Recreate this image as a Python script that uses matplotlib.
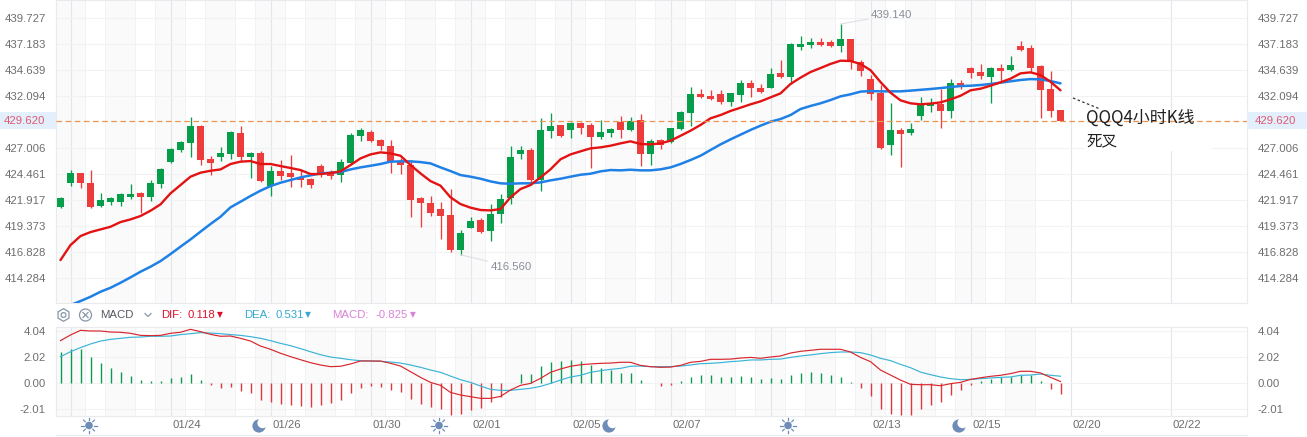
import numpy as np
import matplotlib
matplotlib.use("Agg")
import matplotlib.pyplot as plt
from matplotlib.patches import Circle, Rectangle, RegularPolygon
from matplotlib.lines import Line2D
from matplotlib.transforms import Affine2D

plt.rcParams['font.family'] = ['Liberation Sans', 'DejaVu Sans']

opens = [421.23, 423.61, 424.56, 423.58, 421.33, 421.72, 421.72, 422.21, 422.60, 422.21,
         423.48, 425.63, 426.81, 427.49, 429.16, 425.93, 426.12, 426.42, 428.47, 426.12,
         426.51, 423.28, 424.75, 424.56, 424.07, 423.97, 425.24, 424.56, 424.36, 425.53,
         428.18, 428.57, 427.79, 427.20, 425.73, 425.34, 422.11, 421.62, 421.03, 420.45,
         417.02, 419.18, 419.96, 418.88, 420.55, 422.11, 426.42, 426.81, 423.87, 428.67,
         429.25, 428.77, 429.45, 429.25, 428.08, 428.47, 429.55, 428.77, 429.74, 426.42,
         427.79, 427.59, 428.86, 430.43, 432.29, 432.09, 432.29, 431.51, 432.19, 433.37,
         432.88, 432.88, 434.34, 433.95, 436.92, 437.08, 437.38, 437.38, 436.99, 437.67,
         435.42, 433.76, 432.39, 427.30, 428.77, 428.47, 430.13, 431.11, 431.31, 430.62,
         433.36, 434.83, 434.44, 433.95, 434.83, 434.64, 436.98, 436.79, 435.03, 432.78,
         430.72]
highs = [422.21, 424.85, 424.56, 424.85, 422.57, 422.21, 422.57, 423.48, 422.66, 423.87,
         425.05, 426.97, 427.69, 430.00, 429.22, 426.22, 427.10, 428.67, 429.16, 426.61,
         426.71, 425.24, 425.83, 426.32, 424.85, 424.03, 425.44, 424.85, 425.93, 428.47,
         428.96, 428.76, 427.85, 427.79, 425.99, 425.83, 422.18, 422.31, 421.72, 422.99,
         418.98, 420.25, 420.15, 421.52, 422.50, 427.20, 427.20, 427.00, 429.94, 430.43,
         429.25, 429.55, 429.55, 429.45, 429.74, 428.96, 430.14, 430.04, 430.33, 427.88,
         427.88, 428.96, 430.62, 432.97, 432.78, 432.68, 432.68, 432.39, 433.66, 433.66,
         433.27, 434.83, 435.62, 437.28, 437.97, 437.77, 437.77, 437.57, 439.14, 437.67,
         435.62, 434.15, 433.17, 431.41, 428.96, 429.45, 431.99, 431.90, 432.78, 433.75,
         433.66, 434.93, 435.22, 434.93, 435.22, 436.01, 437.47, 437.08, 435.12, 434.54,
         430.72]
lows = [421.13, 423.32, 423.12, 421.17, 421.26, 421.42, 421.33, 422.04, 420.61, 421.82,
        423.09, 425.53, 426.61, 426.12, 425.34, 424.36, 425.73, 425.93, 425.73, 424.07,
        423.68, 422.31, 423.87, 423.19, 423.19, 423.09, 424.16, 423.97, 423.68, 425.44,
        427.69, 427.59, 426.81, 424.56, 424.46, 420.25, 419.27, 420.35, 418.10, 416.86,
        416.56, 419.15, 418.69, 417.90, 419.66, 421.52, 425.93, 423.38, 422.80, 427.98,
        428.08, 427.98, 428.37, 425.05, 427.88, 428.08, 427.98, 428.67, 425.24, 425.34,
        426.91, 427.49, 428.77, 429.16, 431.90, 431.70, 431.31, 431.12, 431.51, 432.00,
        432.39, 432.88, 433.86, 433.27, 436.60, 436.79, 436.99, 436.89, 436.40, 434.74,
        434.05, 431.70, 426.91, 426.32, 425.15, 428.28, 429.74, 430.53, 428.96, 429.94,
        432.78, 433.85, 433.75, 431.41, 433.46, 434.54, 436.49, 434.44, 429.94, 430.04,
        429.62]
closes = [422.11, 424.56, 423.61, 421.23, 421.91, 422.11, 422.50, 422.50, 422.21, 423.58,
          424.95, 426.90, 427.59, 429.16, 425.83, 425.53, 426.51, 428.57, 426.12, 426.51,
          423.77, 424.75, 424.26, 424.16, 423.87, 423.38, 424.56, 424.26, 425.63, 428.27,
          428.76, 427.69, 427.20, 425.63, 425.34, 421.92, 421.62, 420.64, 420.35, 417.02,
          418.69, 419.86, 418.78, 420.55, 422.01, 426.12, 426.81, 423.87, 428.77, 429.16,
          428.18, 429.45, 428.96, 428.08, 428.57, 428.86, 428.77, 429.65, 426.42, 427.69,
          427.30, 428.96, 430.53, 432.29, 432.00, 431.80, 431.51, 432.39, 433.37, 432.88,
          432.49, 434.25, 433.95, 437.18, 437.18, 437.38, 437.08, 436.99, 437.67, 435.42,
          434.54, 432.29, 427.01, 428.77, 428.38, 428.86, 431.31, 431.31, 430.62, 433.36,
          433.17, 434.34, 434.05, 434.83, 434.54, 435.12, 436.59, 434.83, 432.68, 430.62,
          429.62]
ma_red = [416.04, 417.51, 418.39, 418.78, 419.04, 419.30, 419.76, 420.02, 420.35, 420.87,
          421.49, 422.57, 423.38, 424.20, 424.59, 424.78, 424.91, 425.44, 425.67, 425.73,
          425.44, 425.44, 425.24, 425.05, 424.85, 424.46, 424.46, 424.56, 424.72, 425.34,
          425.99, 426.38, 426.58, 426.48, 426.25, 425.34, 424.52, 423.77, 423.32, 422.18,
          421.52, 421.17, 420.94, 420.90, 421.03, 422.18, 422.99, 423.38, 424.13, 424.92,
          425.90, 426.38, 426.68, 426.97, 427.07, 427.23, 427.46, 427.66, 427.40, 427.36,
          427.46, 427.72, 428.20, 428.70, 429.26, 429.91, 430.23, 430.63, 430.95, 431.28,
          431.57, 431.96, 432.35, 433.27, 433.89, 434.44, 434.83, 435.23, 435.55, 435.52,
          435.23, 434.62, 433.46, 432.42, 431.67, 431.38, 431.28, 431.35, 431.47, 431.76,
          432.12, 432.65, 432.81, 433.10, 433.43, 433.79, 434.31, 434.41, 434.15, 433.49,
          432.65]
ma_blue = [411.21, 411.64, 412.03, 412.45, 412.94, 413.33, 413.82, 414.35, 414.90, 415.39,
           415.94, 416.63, 417.35, 418.06, 418.82, 419.57, 420.28, 421.20, 421.75, 422.31,
           422.83, 423.28, 423.61, 423.87, 424.13, 424.33, 424.52, 424.59, 424.65, 424.91,
           425.11, 425.27, 425.44, 425.67, 425.70, 425.70, 425.63, 425.50, 425.11, 424.75,
           424.36, 424.20, 424.00, 423.74, 423.55, 423.51, 423.55, 423.55, 423.64, 423.84,
           424.00, 424.20, 424.39, 424.49, 424.72, 424.85, 424.82, 424.88, 424.82, 424.82,
           424.92, 425.11, 425.44, 425.83, 426.25, 426.81, 427.36, 427.85, 428.31, 428.77,
           429.19, 429.58, 429.84, 430.23, 430.82, 431.12, 431.38, 431.70, 432.06, 432.26,
           432.52, 432.58, 432.55, 432.55, 432.55, 432.62, 432.70, 432.78, 432.87, 432.97,
           433.07, 433.10, 433.17, 433.27, 433.40, 433.53, 433.66, 433.75, 433.72, 433.56,
           433.33]
macd_hist = [2.38, 2.64, 2.62, 1.99, 1.53, 1.14, 0.83, 0.52, 0.23, 0.16,
             0.16, 0.39, 0.44, 0.67, 0.23, -0.16, -0.39, -0.31, -0.62, -0.78,
             -1.32, -1.48, -1.63, -1.71, -1.79, -1.86, -1.71, -1.55, -1.32, -0.78,
             -0.39, -0.23, -0.31, -0.54, -0.70, -1.24, -1.63, -1.86, -2.02, -2.49,
             -2.41, -2.10, -1.94, -1.50, -1.06, -0.03, 0.70, 0.70, 1.32, 1.63,
             1.71, 1.79, 1.71, 1.37, 1.17, 1.01, 0.78, 0.78, 0.23, 0.02,
             -0.23, -0.16, 0.16, 0.44, 0.60, 0.60, 0.44, 0.44, 0.54, 0.44,
             0.31, 0.39, 0.31, 0.62, 0.75, 0.85, 0.75, 0.62, 0.44, 0.08,
             -0.40, -1.01, -2.02, -2.41, -2.49, -2.49, -2.02, -1.71, -1.48, -0.93,
             -0.54, -0.16, 0.13, 0.31, 0.44, 0.44, 0.62, 0.60, 0.13, -0.47,
             -0.825]
dif = [3.29, 3.73, 4.09, 4.04, 4.04, 3.96, 3.94, 3.86, 3.70, 3.68,
       3.70, 3.86, 3.94, 4.17, 3.99, 3.78, 3.63, 3.65, 3.47, 3.26,
       2.87, 2.62, 2.31, 2.05, 1.81, 1.58, 1.40, 1.27, 1.30, 1.48,
       1.71, 1.71, 1.71, 1.53, 1.32, 0.88, 0.44, 0.05, -0.18, -0.73,
       -0.93, -1.06, -1.19, -1.19, -1.04, -0.54, -0.18, -0.03, 0.36, 0.83,
       1.09, 1.30, 1.42, 1.48, 1.53, 1.55, 1.61, 1.61, 1.37, 1.27,
       1.22, 1.24, 1.37, 1.61, 1.68, 1.84, 1.84, 1.86, 1.94, 1.99,
       1.92, 2.02, 2.10, 2.33, 2.46, 2.54, 2.62, 2.62, 2.62, 2.41,
       1.99, 1.66, 1.01, 0.62, 0.23, -0.10, -0.13, -0.13, -0.21, -0.05,
       0.05, 0.28, 0.41, 0.52, 0.60, 0.73, 0.91, 0.91, 0.78, 0.44,
       0.118]
dea = [2.05, 2.43, 2.75, 3.03, 3.26, 3.39, 3.47, 3.55, 3.57, 3.63,
       3.63, 3.65, 3.76, 3.83, 3.91, 3.88, 3.83, 3.76, 3.70, 3.60,
       3.47, 3.29, 3.08, 2.90, 2.67, 2.43, 2.20, 2.02, 1.92, 1.81,
       1.73, 1.71, 1.68, 1.63, 1.55, 1.40, 1.22, 1.01, 0.83, 0.54,
       0.26, 0.05, -0.23, -0.49, -0.57, -0.57, -0.49, -0.41, -0.26, -0.03,
       0.23, 0.47, 0.60, 0.83, 0.96, 1.06, 1.14, 1.30, 1.32, 1.27,
       1.27, 1.27, 1.32, 1.40, 1.50, 1.53, 1.58, 1.66, 1.71, 1.79,
       1.79, 1.84, 1.86, 1.99, 2.10, 2.18, 2.28, 2.36, 2.41, 2.41,
       2.36, 2.18, 1.92, 1.74, 1.45, 1.19, 0.85, 0.65, 0.47, 0.34,
       0.26, 0.28, 0.34, 0.39, 0.44, 0.47, 0.60, 0.62, 0.70, 0.60,
       0.531]

price_ticks = [439.727, 437.183, 434.639, 432.094, 427.006, 424.461, 421.917, 419.373, 416.828, 414.284]
macd_ticks = [4.04, 2.02, 0.00, -2.01]
last_price = 429.62
date_ticks = [1, 11, 21, 31, 41, 51, 61, 71, 81, 91, 101, 111]
date_labels = ['', '01/24', '01/26', '01/30', '02/01', '02/05', '02/07', '', '02/13', '02/15', '02/20', '02/22']
sun_x = [89, 439, 788]
moon_x = [259, 609, 959]

RED = '#ee3b3b'
GREEN = '#069e4a'
GRID = '#f0f2f4'
VLINE = '#e2e5ea'
TEXT = '#6e6e6e'
W, H = 1307, 437

fig = plt.figure(figsize=(W / 100, H / 100), dpi=100, facecolor='white')
# pixel coords measured from the top left, for the icons and notes
top_px = Affine2D().scale(1, -1).translate(0, H)


def add_panel(top, bottom):
    return fig.add_axes([56 / W, 1 - bottom / H, (1247 - 56) / W, (bottom - top) / H])


ax = add_panel(0, 302.7)
ax2 = add_panel(327, 416)
xs = np.arange(len(closes))

for a in (ax, ax2):
    a.set_xlim(-0.45, 118.65)
    for s in a.spines.values():
        s.set_color('#e8eaed')
        s.set_linewidth(0.8)
    # trading session bands
    for k in range(20):
        a.axvspan(-0.55 + 5 * k, 2.45 + 5 * k, color='#fafafb', lw=0, zorder=0)
        a.axvline(-0.55 + 5 * k, color=GRID, lw=0.7, zorder=0.4)
        a.axvline(2.45 + 5 * k, color=GRID, lw=0.7, zorder=0.4)
    for t in date_ticks:
        a.axvline(t, color=VLINE, lw=0.8, zorder=0.5)
    a.set_xticks([])
    a.grid(axis='y', color=GRID, lw=0.8, zorder=0.4)
    a.set_axisbelow(True)
    a.tick_params(axis='y', length=0, labelleft=True, labelright=True, labelsize=8.2,
                  labelcolor=TEXT, pad=7.5)

# candles
ax.set_ylim(411.87, 441.488)
ax.set_yticks(price_ticks)
ax.set_yticklabels(['%.3f' % v for v in price_ticks])
colors = [GREEN if c > o else RED for o, c in zip(opens, closes)]
ax.vlines(xs, lows, highs, colors=colors, lw=0.95, zorder=2)
ax.bar(xs, np.abs(np.array(closes) - np.array(opens)), bottom=np.minimum(opens, closes),
       width=0.7, color=colors, lw=0, zorder=2.1)
ax.plot(xs, ma_blue, color='#1f80e6', lw=1.8, zorder=3, solid_capstyle='round')
ax.plot(xs, ma_red, color='#e31313', lw=1.7, zorder=3.1, solid_capstyle='round')
ax.axhline(last_price, color='#ef9350', lw=0.9, ls=(0, (4.5, 2.8)), zorder=4)

# high / low notes
ax.annotate('439.140', xy=(78, 439.14), xytext=(30, 9), textcoords='offset pixels', color='#8a8f99',
            fontsize=8.2, va='center', ha='left',
            arrowprops=dict(arrowstyle='-', color='#dcdfe4', lw=0.8, shrinkA=0, shrinkB=0))
ax.annotate('416.560', xy=(40, 416.56), xytext=(30, -12), textcoords='offset pixels', color='#8a8f99',
            fontsize=8.2, va='center', ha='left',
            arrowprops=dict(arrowstyle='-', color='#dcdfe4', lw=0.8, shrinkA=0, shrinkB=0))

# last price labels on both sides
for x0, x1 in ((0, 56), (1247, W)):
    fig.add_artist(Rectangle((x0, 111.7), x1 - x0, 17, transform=top_px, fc='#e3effb', ec='none'))
fig.text(45, 120.5, '%.3f' % last_price, transform=top_px, ha='right', va='center', fontsize=8.2, color='#de5a72')
fig.text(1255, 120.5, '%.3f' % last_price, transform=top_px, ha='left', va='center', fontsize=8.2, color='#de5a72')

# macd pane
ax2.set_ylim(-2.56, 4.35)
ax2.set_yticks(macd_ticks)
ax2.set_yticklabels(['%.2f' % v for v in macd_ticks])
hist_colors = ['#0a9a50' if v > 0 else '#e0363c' for v in macd_hist]
ax2.vlines(xs, 0, macd_hist, colors=hist_colors, lw=1.0, zorder=2)
ax2.plot(xs, dea, color='#39b4d6', lw=0.85, zorder=3)
ax2.plot(xs, dif, color='#d8262c', lw=0.85, zorder=3.1)

for t, lab in zip(date_ticks, date_labels):
    fig.text(60.5 + 10 * t + 2, 425.5, lab, transform=top_px, ha='left', va='center', fontsize=8.2, color=TEXT)

# header of macd pane
ICON = '#8795a8'
fig.add_artist(RegularPolygon((63.5, 315), 6, radius=6.3, orientation=0, transform=top_px, fc='none', ec=ICON, lw=0.9))
fig.add_artist(Circle((63.5, 315), 2.4, transform=top_px, fc='none', ec=ICON, lw=0.9))
fig.add_artist(Circle((85.5, 315), 6, transform=top_px, fc='none', ec=ICON, lw=0.9))
fig.add_artist(Line2D([83, 88], [312.5, 317.5], transform=top_px, color=ICON, lw=0.9))
fig.add_artist(Line2D([83, 88], [317.5, 312.5], transform=top_px, color=ICON, lw=0.9))
fig.add_artist(Line2D([145, 148, 151], [313.5, 316.5, 313.5], transform=top_px, color=ICON, lw=0.9))
fig.text(100.5, 315, 'MACD', transform=top_px, va='center', fontsize=8.2, color='#555a63')
for lab, val, x0, x1, x2, col in (('DIF:', '0.118', 161, 187, 217, '#d8102c'),
                                  ('DEA:', '0.531', 244, 275, 305, '#36a9d0'),
                                  ('MACD:', '-0.825', 332, 376, 410, '#d983d6')):
    fig.text(x0, 315, lab, transform=top_px, va='center', fontsize=8.2, color=col)
    fig.text(x1, 315, val, transform=top_px, va='center', fontsize=8.2, color=col)
    fig.text(x2, 314.5, '\u25bc', transform=top_px, va='center', fontsize=5.5, color=col, family='DejaVu Sans')

# sun and moon icons under the axis
ICON2 = '#6d8db8'
for x in sun_x:
    fig.add_artist(Circle((x, 425.5), 3.8, transform=top_px, fc=ICON2, ec='none'))
    for ang in np.arange(0, 360, 45):
        c, s = np.cos(np.radians(ang)), np.sin(np.radians(ang))
        fig.add_artist(Line2D([x + 5.3 * c, x + 7.6 * c], [425.5 + 5.3 * s, 425.5 + 7.6 * s],
                              transform=top_px, color=ICON2, lw=0.9))
for x in moon_x:
    fig.add_artist(Circle((x, 426), 6.6, transform=top_px, fc=ICON2, ec='none'))
    fig.add_artist(Circle((x + 3.6, 423), 5.2, transform=top_px, fc='white', ec='none'))

fig.add_artist(Line2D([56, 1247], [435, 435], transform=top_px, color='#e8eaed', lw=0.8))

# hand drawn note
fig.add_artist(Rectangle((1085, 124), 127, 27, transform=top_px, fc='white', ec='none'))
fig.add_artist(Line2D([1073, 1100], [98, 109], transform=top_px, color='#333333', lw=0.9, ls=(0, (2, 2))))
note_font = ['Noto Sans CJK SC', 'DejaVu Sans']
fig.text(1086, 118, 'QQQ4小时K线', transform=top_px, va='center', fontsize=12.2, color='#222222', family=note_font)
fig.text(1086, 141, '死叉', transform=top_px, va='center', fontsize=11.2, color='#222222', family=note_font)

fig.savefig('out.png', dpi=100)
